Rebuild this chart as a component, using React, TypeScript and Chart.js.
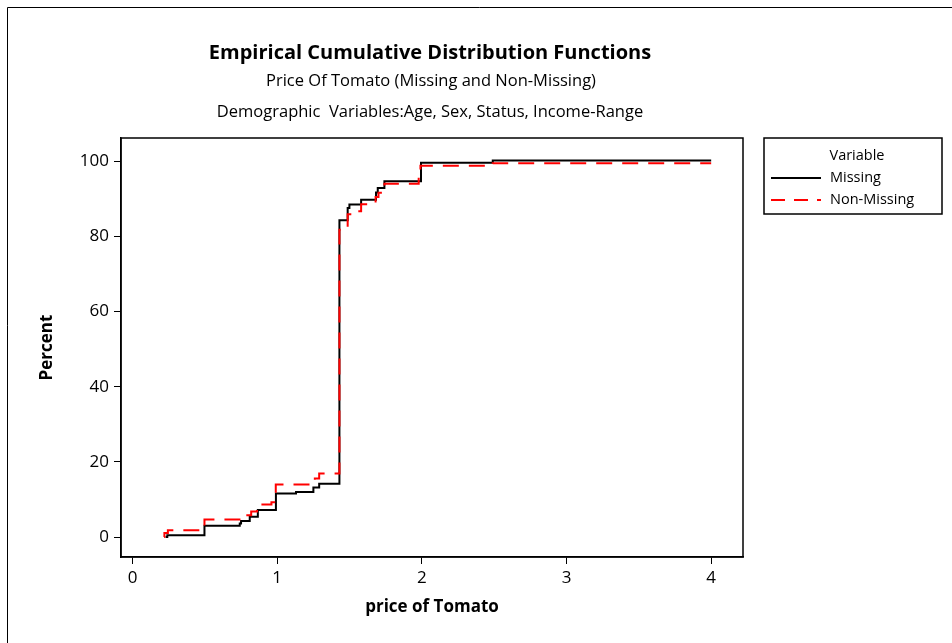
import React, { useEffect, useRef } from "react";
import { Chart, registerables } from "chart.js";

Chart.register(...registerables);

const missingX = [0.228, 0.24, 0.497, 0.741, 0.75, 0.81, 0.866, 0.991, 1.13, 1.25, 1.29, 1.43, 1.487, 1.499, 1.58, 1.683, 1.695, 1.741, 1.994, 2.49, 4.0];
const missingY = [0, 0.5, 3.0, 3.6, 4.3, 5.4, 7.2, 11.6, 12.0, 13.2, 14.2, 84.3, 87.6, 88.5, 89.8, 91.7, 92.9, 94.7, 99.6, 100.2, 100.2];

const nonMissingX = [0.218, 0.22, 0.244, 0.497, 0.75, 0.82, 0.86, 0.96, 0.99, 1.26, 1.29, 1.43, 1.487, 1.55, 1.58, 1.68, 1.70, 1.741, 1.978, 1.99, 2.49, 4.0];
const nonMissingY = [0, 1.1, 1.8, 4.7, 5.8, 6.8, 8.7, 9.3, 14.0, 15.6, 16.9, 81.8, 85.9, 86.7, 88.6, 90.5, 91.6, 94.0, 97.0, 98.8, 99.5, 99.5];

const xTicks = [0, 1, 2, 3, 4];
const yTicks = [0, 20, 40, 60, 80, 100];

const seriesNames = ["Missing", "Non-Missing"];
const titleText = "Empirical Cumulative Distribution Functions";
const subtitle1 = "Price Of Tomato (Missing and Non-Missing)";
const subtitle2 = "Demographic  Variables:Age, Sex, Status, Income-Range";
const xTitle = "price of Tomato";
const yTitle = "Percent";
const legendTitle = "Variable";

const FONT = "'Open Sans', 'DejaVu Sans', sans-serif";

export default function App() {
  const ref = useRef<HTMLCanvasElement | null>(null);

  useEffect(() => {
    document.body.style.margin = "0";
    const canvas = ref.current;
    if (!canvas) return;

    const decor = {
      id: "decor",
      afterDraw(chart: any) {
        const ctx = chart.ctx;
        const a = chart.chartArea;
        ctx.save();
        ctx.strokeStyle = "#000";
        ctx.lineWidth = 1;
        ctx.beginPath();
        ctx.moveTo(7.5, 643);
        ctx.lineTo(7.5, 7.5);
        ctx.lineTo(952, 7.5);
        ctx.stroke();
        ctx.lineWidth = 1.5;
        ctx.strokeRect(a.left, a.top, a.right - a.left, a.bottom - a.top);

        ctx.fillStyle = "#000";
        ctx.textAlign = "center";
        ctx.textBaseline = "middle";
        ctx.font = `bold 20px ${FONT}`;
        ctx.fillText(titleText, 430, 53);
        ctx.font = `16.5px ${FONT}`;
        ctx.fillText(subtitle1, 431, 81);
        ctx.fillText(subtitle2, 430, 112);

        ctx.font = `bold 17px ${FONT}`;
        ctx.fillText(xTitle, 432, 607);
        ctx.save();
        ctx.translate(47, (a.top + a.bottom) / 2);
        ctx.rotate(-Math.PI / 2);
        ctx.fillText(yTitle, 0, 0);
        ctx.restore();

        ctx.lineWidth = 1.5;
        ctx.strokeRect(764, 138, 178, 76);
        ctx.font = `14.5px ${FONT}`;
        ctx.fillText(legendTitle, 857, 156);
        ctx.textAlign = "left";
        ctx.fillText(seriesNames[0], 830, 178);
        ctx.fillText(seriesNames[1], 830, 200);
        ctx.lineWidth = 1.8;
        ctx.strokeStyle = "#000";
        ctx.beginPath();
        ctx.moveTo(771, 178);
        ctx.lineTo(821, 178);
        ctx.stroke();
        ctx.strokeStyle = "#ff0000";
        ctx.setLineDash([14, 9]);
        ctx.beginPath();
        ctx.moveTo(771, 200);
        ctx.lineTo(821, 200);
        ctx.stroke();
        ctx.restore();
      },
    };

    const chart = new Chart(canvas, {
      type: "line",
      data: {
        datasets: [
          {
            label: seriesNames[1],
            data: nonMissingX.map((x, i) => ({ x, y: nonMissingY[i] })),
            borderColor: "#ff0000",
            borderWidth: 2,
            borderDash: [16, 10],
            stepped: "before",
            pointRadius: 0,
            fill: false,
          },
          {
            label: seriesNames[0],
            data: missingX.map((x, i) => ({ x, y: missingY[i] })),
            borderColor: "#000000",
            borderWidth: 2,
            stepped: "before",
            pointRadius: 0,
            fill: false,
          },
        ],
      },
      options: {
        responsive: false,
        devicePixelRatio: 1,
        animation: false,
        layout: { padding: { left: 0, top: 138, right: 209, bottom: 0 } },
        plugins: { legend: { display: false }, title: { display: false }, tooltip: { enabled: false } },
        scales: {
          x: {
            type: "linear",
            min: -0.08,
            max: 4.22,
            afterBuildTicks: (s: any) => {
              s.ticks = xTicks.map((v) => ({ value: v }));
            },
            afterFit: (s: any) => {
              s.height = 86;
            },
            grid: { display: true, drawOnChartArea: false, drawTicks: true, tickLength: 7, color: "#000", lineWidth: 1 },
            border: { display: true, color: "#000", width: 1.5 },
            ticks: { color: "#000", font: { family: FONT, size: 17 }, padding: 4, maxRotation: 0 },
          },
          y: {
            type: "linear",
            min: -5.3,
            max: 106.2,
            afterBuildTicks: (s: any) => {
              s.ticks = yTicks.map((v) => ({ value: v }));
            },
            afterFit: (s: any) => {
              s.width = 121;
            },
            grid: { display: true, drawOnChartArea: false, drawTicks: true, tickLength: 7, color: "#000", lineWidth: 1 },
            border: { display: true, color: "#000", width: 1.5 },
            ticks: { color: "#000", font: { family: FONT, size: 17 }, padding: 5 },
          },
        },
      },
      plugins: [decor],
    });

    return () => chart.destroy();
  }, []);

  return <canvas ref={ref} width={952} height={643} style={{ display: "block", width: 952, height: 643 }} />;
}
